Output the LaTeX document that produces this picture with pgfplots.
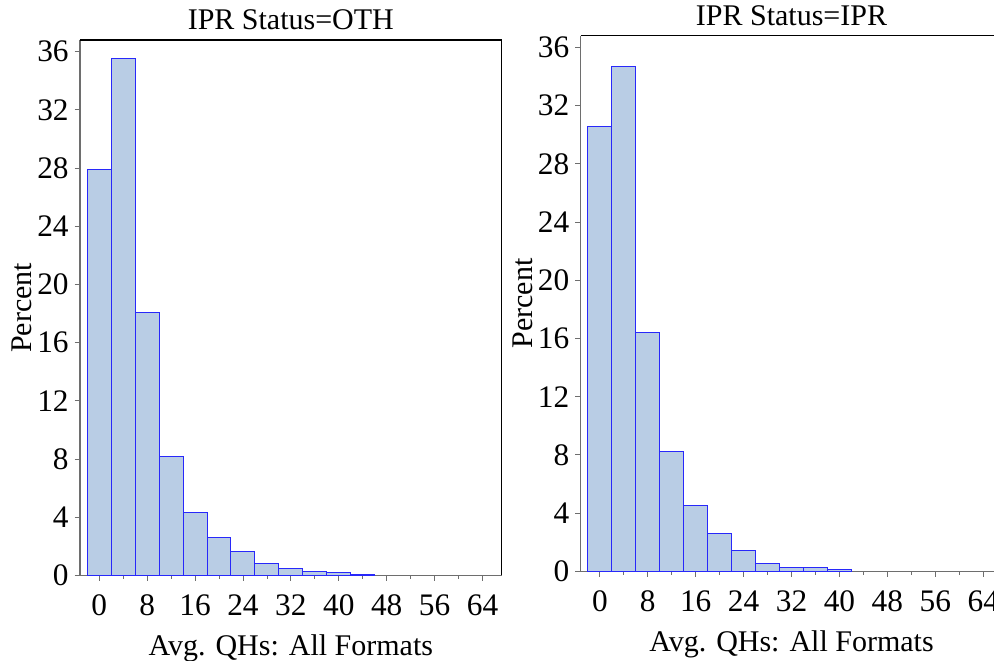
\documentclass[border=0pt]{standalone}
\usepackage{fontspec}
\setmainfont{Liberation Serif}
\usepackage{pgfplots}
\pgfplotsset{compat=1.18}

\definecolor{barfill}{RGB}{185,205,229}
\definecolor{baredge}{RGB}{40,40,250}
\definecolor{axisgray}{RGB}{110,110,110}

% bin left edges (width 4) and percent
\pgfplotstableread{
x   y
-2  27.9
2   35.5
6   18.1
10  8.2
14  4.3
18  2.6
22  1.67
26  0.85
30  0.46
34  0.26
38  0.19
42  0.06
46  0
}\oth
\pgfplotstableread{
x   y
-2  30.6
2   34.7
6   16.4
10  8.23
14  4.53
18  2.57
22  1.43
26  0.55
30  0.23
34  0.25
38  0.11
42  0
}\ipr

\pgfplotsset{
  histo/.style={
    scale only axis,
    width=316.3pt, height=401.6pt,
    xmin=-3.2, xmax=67.2,
    ymin=0, ymax=36.8,
    axis lines*=left,
    axis line style={axisgray, line width=0.8pt},
    xtick={0,8,...,64},
    minor xtick={4,12,...,60},
    ytick={0,4,...,36},
    tick align=outside,
    tick style={axisgray, line width=0.6pt},
    major tick length=4pt,
    minor tick length=2.5pt,
    x tick label as interval=false,
    tick label style={font=\fontsize{23.5}{25}\selectfont},
    /pgf/number format/assume math mode=true,
    label style={font=\fontsize{22.5}{24}\selectfont},
    title style={font=\fontsize{22.5}{24}\selectfont, yshift=-2pt},
    xlabel={Avg. QHs: All Formats},
    ylabel={Percent},
    xticklabel style={yshift=-7pt},
    xlabel style={yshift=-7pt},
    ylabel style={yshift=-3pt},
    yticklabel style={xshift=-1pt},
    clip=false,
  },
  histbar/.style={ybar interval, fill=barfill, draw=baredge, line width=0.75pt},
}

\begin{document}
\begin{tikzpicture}
\useasboundingbox (-60pt,-64.1pt) rectangle (685.5pt,431.6pt);
\clip (-60pt,-64.1pt) rectangle (685.5pt,431.6pt);
\begin{axis}[histo, title={IPR Status=OTH}, at={(0pt,0pt)}]
\addplot[histbar] table[x=x,y=y] {\oth};
\draw[black, line width=0.8pt] (rel axis cs:0,1) -- (rel axis cs:1,1) -- (rel axis cs:1,0);
\end{axis}
\begin{axis}[histo, title={IPR Status=IPR}, at={(375.5pt,3.15pt)}]
\addplot[histbar] table[x=x,y=y] {\ipr};
\draw[black, line width=0.8pt] (rel axis cs:0,1) -- (rel axis cs:1,1) -- (rel axis cs:1,0);
\end{axis}
\end{tikzpicture}
\end{document}
